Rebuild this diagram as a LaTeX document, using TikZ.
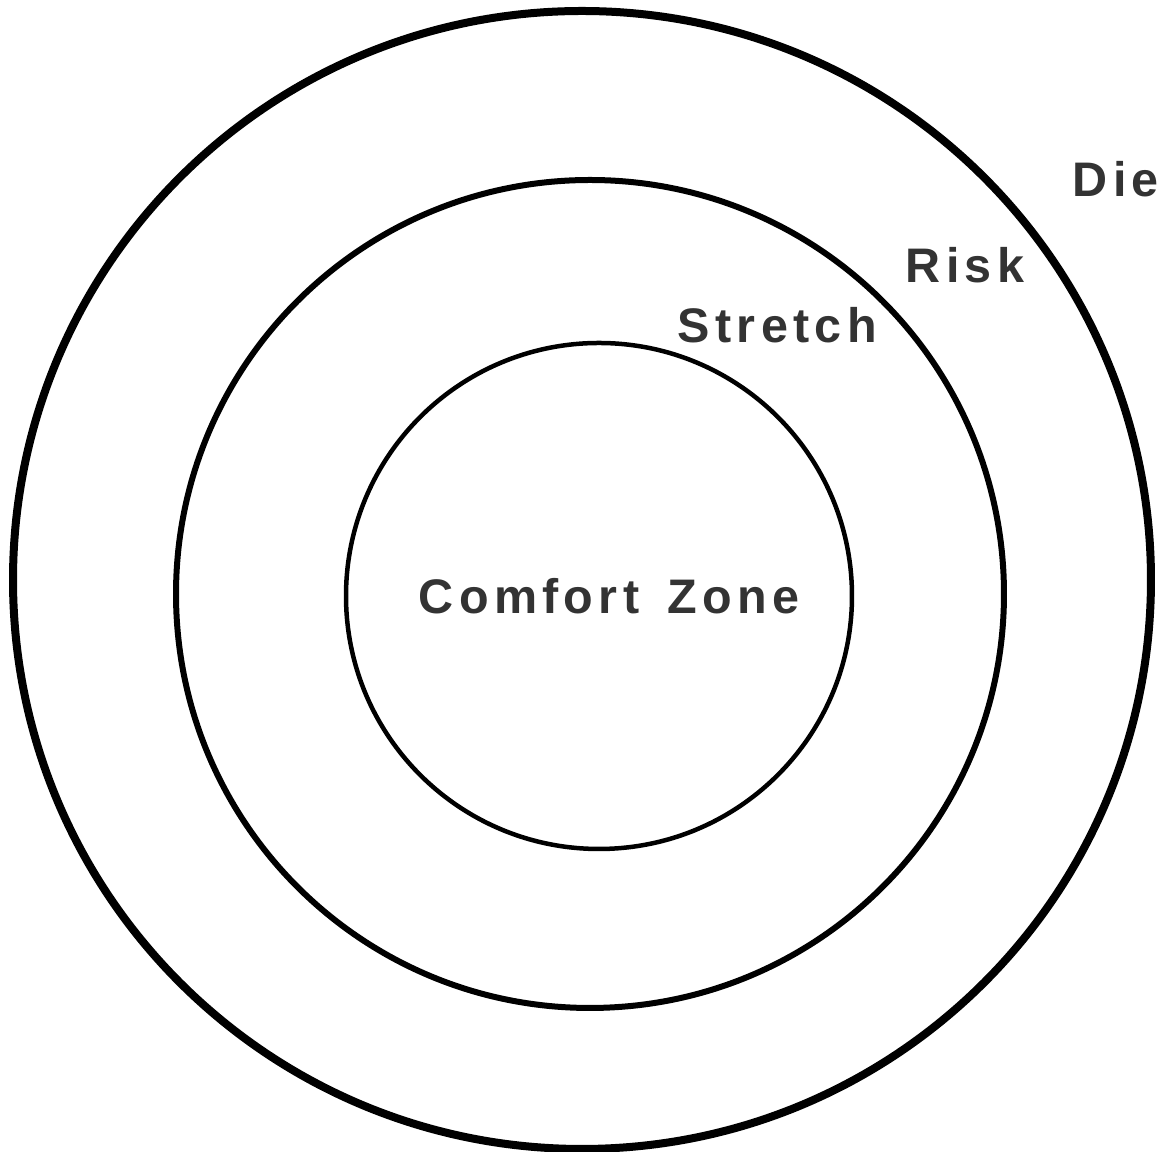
\documentclass[tikz,border=0pt]{standalone}
\usepackage{fontspec}
\newfontfamily\zonefont[LetterSpace=11,WordSpace=1.5]{Liberation Sans}
\usepackage{tikz}
\definecolor{Ink}{HTML}{333333}
\tikzset{
  ring/.style={draw=black},
  zonelabel/.style={anchor=base west,inner sep=0pt,text=Ink,
    font=\zonefont\bfseries\fontsize{13.8}{16}\selectfont}
}
\begin{document}
\begin{tikzpicture}[x=0.1mm,y=-0.1mm]
  \useasboundingbox (0,0) rectangle (1158,1152);
  \draw[ring,line width=0.8mm] (582,580) circle[radius=56.9mm];
  \draw[ring,line width=0.6mm] (590,594) circle[radius=41.4mm];
  \draw[ring,line width=0.45mm] (599,596) circle[radius=25.3mm];
  \node[zonelabel] (comfort) at (418,614) {Comfort Zone};
  \node[zonelabel] (stretch) at (677,343) {Stretch};
  \node[zonelabel] (risk) at (905,283) {Risk};
  \node[zonelabel] (die) at (1072,197) {Die};
\end{tikzpicture}
\end{document}
